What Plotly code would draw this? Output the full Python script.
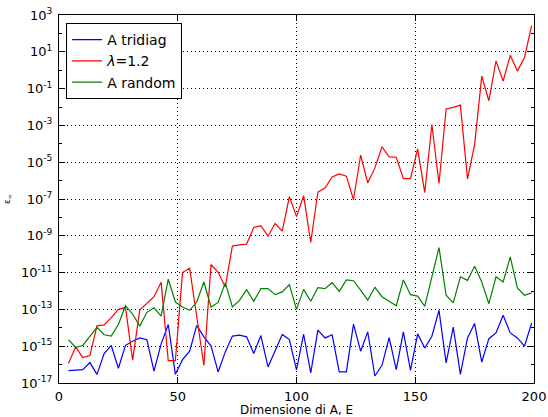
import plotly.graph_objects as go

# x: matrix dimension
dims = list(range(4, 200, 3))  # 4,7,...,199

# log10 of the errors
log_tridiag = [
    -16.33, -16.31, -16.27, -15.89, -16.53, -15.40, -14.96, -16.20, -14.95, -14.73,
    -14.55, -14.65, -16.35, -14.87, -13.82, -16.53, -15.73, -15.27, -13.87, -14.49,
    -14.98, -16.40, -15.31, -14.45, -14.40, -14.49, -15.40, -14.42, -16.13, -15.25,
    -14.36, -14.64, -16.29, -14.35, -16.45, -14.13, -14.55, -14.38, -16.40, -16.40,
    -13.80, -15.27, -14.22, -16.62, -16.04, -14.53, -16.27, -14.22, -16.31, -14.33,
    -15.10, -14.46, -13.05, -15.91, -13.96, -16.53, -14.55, -13.77, -15.86, -14.59,
    -14.28, -13.32, -14.28, -14.55, -15.00, -13.74,
]
log_lambda = [
    -15.93, -15.04, -15.62, -15.51, -13.89, -13.84, -13.45, -13.00, -12.89, -15.76,
    -13.04, -12.67, -12.31, -11.53, -15.78, -15.78, -11.00, -10.76, -13.50, -16.05,
    -10.56, -10.98, -11.78, -9.56, -9.49, -9.45, -8.55, -8.45, -9.02, -8.33,
    -8.75, -6.87, -7.96, -6.82, -9.36, -6.62, -6.40, -5.80, -5.64, -5.76,
    -7.04, -4.62, -6.13, -5.31, -4.16, -4.71, -4.73, -5.89, -5.89, -4.28,
    -6.65, -2.95, -6.16, -2.11, -2.02, -1.90, -5.92, -4.03, -0.32, -1.66,
    0.50, -0.59, 0.81, -0.05, 0.69, 2.42,
]
log_random = [
    -14.64, -15.07, -14.96, -14.44, -13.98, -14.38, -14.45, -13.82, -12.80, -13.25,
    -13.91, -13.16, -12.91, -13.36, -11.36, -12.60, -12.87, -13.05, -12.60, -11.51,
    -12.87, -12.62, -11.56, -12.87, -12.51, -11.93, -12.56, -11.87, -11.87, -12.20,
    -12.05, -11.65, -13.00, -11.91, -12.56, -11.82, -11.87, -11.55, -12.02, -11.40,
    -11.44, -11.95, -12.49, -11.80, -12.31, -12.56, -12.80, -11.40, -12.20, -12.28,
    -12.83, -11.23, -9.64, -12.23, -12.65, -11.23, -11.42, -10.65, -11.51, -12.69,
    -11.23, -11.51, -10.15, -11.83, -12.23, -12.10,
]

series_names = ["A tridiag", "<i>λ</i>=1.2", "A random"]
series_colors = ["#0000ff", "#ff0000", "#008000"]

y_exps = list(range(-17, 4, 2))
x_ticks = [0, 50, 100, 150, 200]

fig = go.Figure()
for name, col, logs in zip(series_names, series_colors,
                           [log_tridiag, log_lambda, log_random]):
    fig.add_trace(go.Scatter(
        x=dims, y=[10 ** v for v in logs], mode="lines", name=name,
        line=dict(color=col, width=1.2),
    ))

fig.update_layout(
    width=548, height=417,
    margin=dict(l=59, r=14, t=15, b=34),
    paper_bgcolor="white", plot_bgcolor="white",
    font=dict(family="DejaVu Sans", size=13, color="black"),
    showlegend=True,
    legend=dict(
        x=0.015, y=0.978, xanchor="left", yanchor="top",
        bordercolor="black", borderwidth=1, bgcolor="white",
        font=dict(size=14), tracegroupgap=0,
    ),
    annotations=[dict(
        text="Dimensione di A, E", xref="paper", yref="paper",
        x=0.5, y=-0.073, xanchor="center", yanchor="middle",
        showarrow=False, font=dict(size=12),
    )],
)
fig.update_xaxes(
    range=[0, 200], tickvals=x_ticks, ticktext=[str(v) for v in x_ticks],
    automargin=False,
    showline=True, linecolor="black", linewidth=1, mirror="ticks",
    ticks="inside", ticklen=6, tickcolor="black", ticklabelstandoff=1,
    showgrid=True, gridcolor="black", griddash="1px,3px", gridwidth=1,
    zeroline=False,
)
fig.update_yaxes(
    type="log", range=[-17, 3], automargin=False,
    tickvals=[10 ** e for e in y_exps],
    ticktext=["10<sup>%d</sup>" % e for e in y_exps],
    showline=True, linecolor="black", linewidth=1, mirror="ticks",
    ticks="inside", ticklen=6, tickcolor="black", ticklabelstandoff=3,
    minor=dict(tickvals=[10 ** e for e in range(-16, 3, 2)], ticks="inside",
               ticklen=3, tickcolor="black", showgrid=False),
    showgrid=True, gridcolor="black", griddash="1px,3px", gridwidth=1,
    zeroline=False,
    title=dict(text="ε<sub>∞</sub>", font=dict(size=9), standoff=8),
)
fig.write_html("out.html")
